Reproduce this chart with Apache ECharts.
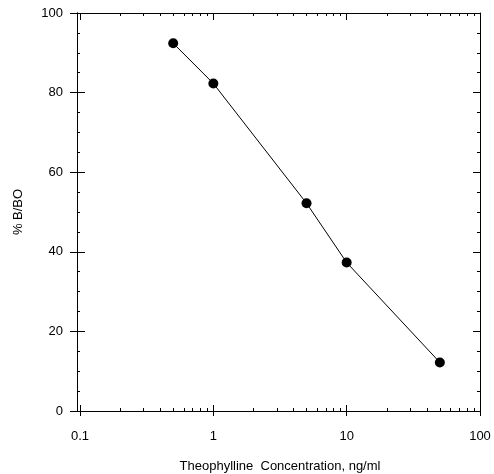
<!DOCTYPE html>
<html>
<head>
<meta charset="utf-8">
<script src="https://cdn.jsdelivr.net/npm/echarts@6/dist/echarts.min.js"></script>
<style>html,body{margin:0;padding:0;background:#fff}#c{width:494px;height:474px}</style>
</head>
<body>
<div id="c"></div>
<script>
var concentrations = [0.5, 1, 5, 10, 50];
var percentBBO = [92.4, 82.3, 52.2, 37.3, 12.2];
var xMin = 0.1, xMax = 100;
var yMin = 0, yMax = 100, yInterval = 20;
var xName = 'Theophylline  Concentration, ng/ml';
var yName = '% B/BO';

var font = 'Liberation Sans, Arial, sans-serif';
var black = '#000';
var chart = echarts.init(document.getElementById('c'), null, {renderer: 'canvas'});

function xAx(opts) {
  return Object.assign({
    type: 'log', logBase: 10, min: xMin, max: xMax, gridIndex: 0,
    axisLine: {show: true, onZero: false, lineStyle: {color: black, width: 1}},
    axisTick: {show: true, inside: true, length: 6, lineStyle: {color: black, width: 1}},
    axisLabel: {show: false},
    splitLine: {show: false}
  }, opts);
}
function yAx(opts) {
  return Object.assign({
    type: 'value', min: yMin, max: yMax, interval: yInterval, gridIndex: 0,
    axisLine: {show: true, onZero: false, lineStyle: {color: black, width: 1}},
    axisTick: {show: true, inside: true, length: 7, lineStyle: {color: black, width: 1}},
    axisLabel: {show: false},
    splitLine: {show: false}
  }, opts);
}

var option = {
  animation: false,
  backgroundColor: '#fff',
  textStyle: {fontFamily: font},
  grid: {left: 80, right: 14, top: 13, bottom: 63, containLabel: false, outerBoundsMode: 'none'},
  xAxis: [
    xAx({position: 'bottom',
      axisTick: {show: true, inside: false, length: 5, lineStyle: {color: black}},
      axisLabel: {show: true, color: black, fontSize: 13, fontFamily: font, margin: 19,
        formatter: function (v) { return String(v); }},
      name: xName, nameLocation: 'middle', nameGap: 49,
      nameTextStyle: {color: black, fontSize: 13, fontFamily: font}
    }),
    xAx({position: 'bottom',
      minorTick: {show: true, splitNumber: 9, length: 3, lineStyle: {color: black}}}),
    xAx({position: 'top',
      axisTick: {show: true, inside: true, length: 7, lineStyle: {color: black}},
      minorTick: {show: true, splitNumber: 9, length: 3, lineStyle: {color: black}}})
  ],
  yAxis: [
    yAx({position: 'left', offset: 3,
      axisTick: {show: true, inside: false, length: 7, lineStyle: {color: black}},
      axisLabel: {show: true, color: black, fontSize: 13, fontFamily: font, margin: 14},
      name: yName, nameLocation: 'middle', nameGap: 52, nameRotate: 90,
      nameTextStyle: {color: black, fontSize: 13, fontFamily: font}
    }),
    yAx({position: 'left', offset: 3,
      axisTick: {show: true, inside: true, length: 8, lineStyle: {color: black}},
      minorTick: {show: true, splitNumber: 4, length: 3, lineStyle: {color: black}}}),
    yAx({position: 'right',
      axisTick: {show: true, inside: true, length: 7, lineStyle: {color: black}},
      minorTick: {show: true, splitNumber: 4, length: 3, lineStyle: {color: black}}})
  ],
  series: [{
    type: 'line',
    xAxisIndex: 0, yAxisIndex: 0,
    data: concentrations.map(function (c, i) { return [c, percentBBO[i]]; }),
    symbol: 'circle', symbolSize: 10,
    itemStyle: {color: black},
    lineStyle: {color: black, width: 1},
    clip: false
  }]
};
chart.setOption(option);
</script>
</body>
</html>
